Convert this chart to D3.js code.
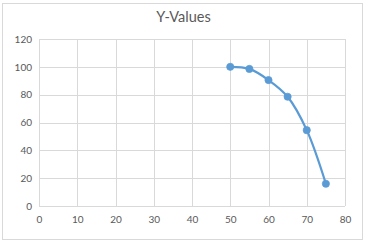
<!DOCTYPE html>
<html>
<head>
<meta charset="utf-8">
<script src="https://cdn.jsdelivr.net/npm/d3@7"></script>
<style>
  html, body { margin: 0; padding: 0; background: #fff; }
  svg text { font-family: Lato, "Open Sans", sans-serif; fill: #595959; }
</style>
</head>
<body>
<div id="chart"></div>
<script>
// Data
const xValues = [50, 55, 60, 65, 70, 75];
const yValues = [100, 98.5, 90.5, 78.5, 54.5, 16];
const xTicks = [0, 10, 20, 30, 40, 50, 60, 70, 80];
const yTicks = [0, 20, 40, 60, 80, 100, 120];
const title = 'Y-Values';

const width = 365, height = 242;
const margin = { top: 39, right: 20, bottom: 36, left: 39 };

const svg = d3.select('#chart').append('svg')
  .attr('width', width)
  .attr('height', height);

// chart area border
svg.append('rect')
  .attr('x', 2.5).attr('y', 3.5)
  .attr('width', width - 5).attr('height', height - 6)
  .attr('fill', '#fff')
  .attr('stroke', '#D9D9D9');

const x = d3.scaleLinear().domain([0, 80]).range([margin.left, width - margin.right]);
const y = d3.scaleLinear().domain([0, 120]).range([height - margin.bottom, margin.top]);

// gridlines
const grid = svg.append('g').attr('stroke', '#D9D9D9').attr('stroke-width', 1);
grid.selectAll('line.h').data(yTicks).join('line')
  .attr('class', 'h')
  .attr('x1', x(0)).attr('x2', x(80))
  .attr('y1', d => Math.round(y(d)) + 0.5).attr('y2', d => Math.round(y(d)) + 0.5);
grid.selectAll('line.v').data(xTicks).join('line')
  .attr('class', 'v')
  .attr('y1', y(0)).attr('y2', y(120))
  .attr('x1', d => Math.round(x(d)) + 0.5).attr('x2', d => Math.round(x(d)) + 0.5);

// axes (labels only, Excel style)
const yAxis = svg.append('g')
  .attr('transform', `translate(${x(0) - 7},0)`)
  .call(d3.axisLeft(y).tickValues(yTicks).tickSize(0).tickPadding(0));
const xAxis = svg.append('g')
  .attr('transform', `translate(0,${y(0) + 9})`)
  .call(d3.axisBottom(x).tickValues(xTicks).tickSize(0).tickPadding(0));
[yAxis, xAxis].forEach(a => {
  a.select('.domain').remove();
  a.selectAll('text').style('font-size', '10px').attr('fill', '#595959');
});
xAxis.selectAll('text').attr('dy', '0.75em');

// title
svg.append('text')
  .attr('x', width / 2 + 1).attr('y', 22)
  .attr('text-anchor', 'middle')
  .style('font-size', '14.5px')
  .text(title);

// series
const pts = xValues.map((v, i) => [v, yValues[i]]);
const line = d3.line()
  .x(d => x(d[0]))
  .y(d => y(d[1]))
  .curve(d3.curveCatmullRom.alpha(0.5));

svg.append('path')
  .datum(pts)
  .attr('fill', 'none')
  .attr('stroke', '#5B9BD5')
  .attr('stroke-width', 2.25)
  .attr('stroke-linecap', 'round')
  .attr('d', line);

svg.append('g').selectAll('circle').data(pts).join('circle')
  .attr('cx', d => x(d[0]))
  .attr('cy', d => y(d[1]))
  .attr('r', 3.6)
  .attr('fill', '#5B9BD5')
  .attr('stroke', '#5B9BD5')
  .attr('stroke-width', 0.75);
</script>
</body>
</html>
